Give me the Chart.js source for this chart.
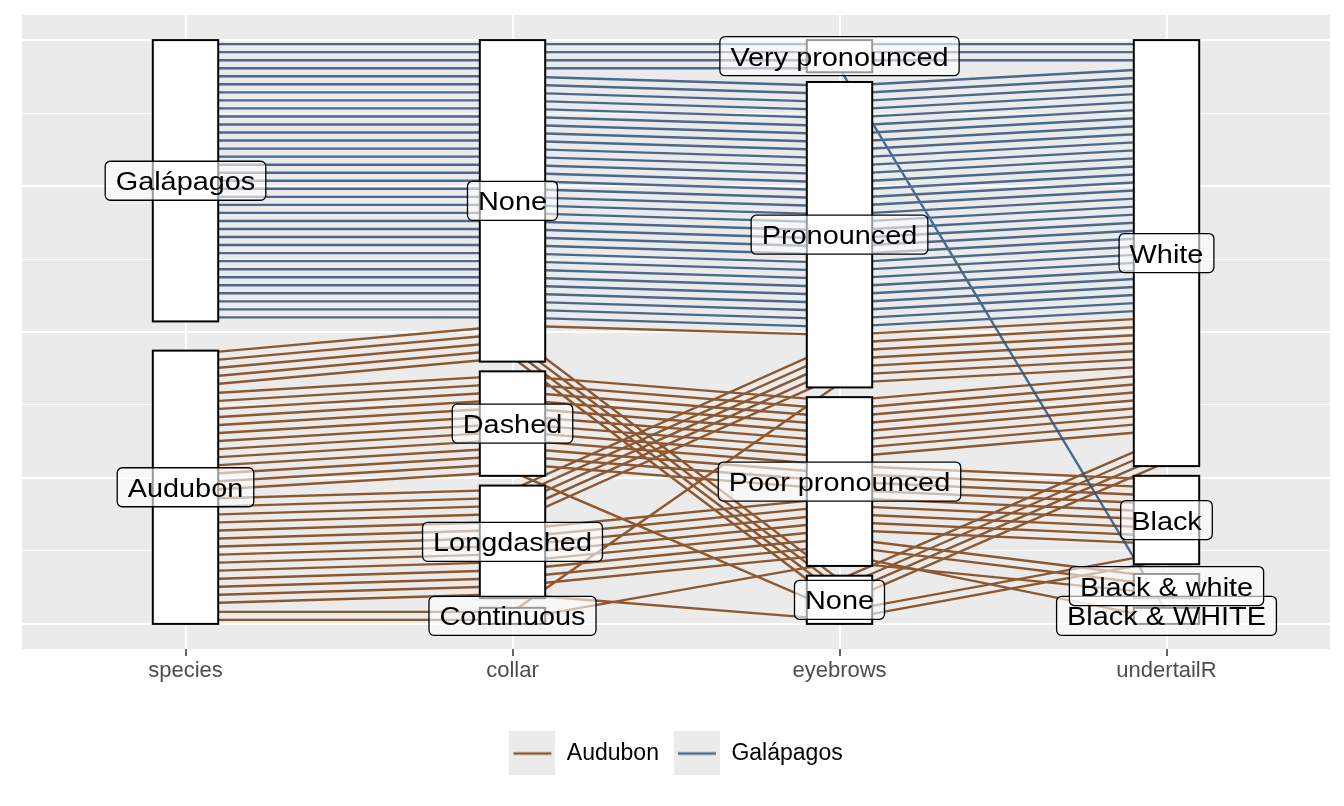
<!DOCTYPE html>
<html>
<head>
<meta charset="utf-8">
<script src="https://cdn.jsdelivr.net/npm/chart.js@4.4.1/dist/chart.umd.min.js"></script>
<style>
body { margin: 0; background: #fff; overflow: hidden; }
</style>
</head>
<body>
<canvas id="pcp" width="1344" height="806"></canvas>
<script>
// axes, and the levels of each axis from bottom to top
var axisNames = ['species', 'collar', 'eyebrows', 'undertailR'];
var speciesLevels = ['Audubon', 'Galápagos'];
var collarLevels = ['Continuous', 'Longdashed', 'Dashed', 'None'];
var eyebrowsLevels = ['None', 'Poor pronounced', 'Pronounced', 'Very pronounced'];
var undertailLevels = ['Black & WHITE', 'Black & white', 'Black', 'White'];

// every combination of the birds, with the number of birds that have it
var comboSpecies = ['Galápagos', 'Galápagos', 'Galápagos', 'Audubon', 'Audubon', 'Audubon', 'Audubon', 'Audubon', 'Audubon', 'Audubon', 'Audubon', 'Audubon', 'Audubon', 'Audubon', 'Audubon'];
var comboCollar = ['None', 'None', 'None', 'None', 'None', 'Dashed', 'Dashed', 'Dashed', 'Longdashed', 'Longdashed', 'Longdashed', 'Longdashed', 'Longdashed', 'Continuous', 'Continuous'];
var comboEyebrows = ['Very pronounced', 'Very pronounced', 'Pronounced', 'Pronounced', 'None', 'Poor pronounced', 'Poor pronounced', 'None', 'Pronounced', 'Poor pronounced', 'Poor pronounced', 'Poor pronounced', 'None', 'Pronounced', 'Poor pronounced'];
var comboUndertail = ['White', 'Black & WHITE', 'White', 'White', 'White', 'White', 'Black', 'Black', 'White', 'Black', 'Black & white', 'Black & WHITE', 'Black', 'White', 'Black & white'];
var comboCount = [3, 1, 31, 1, 4, 8, 4, 1, 5, 5, 2, 1, 1, 1, 1];

var yGridBreaks = [0, 0.125, 0.25, 0.375, 0.5, 0.625, 0.75, 0.875, 1];
var speciesColors = ['rgba(125,62,15,0.85)', 'rgba(47,82,123,0.85)'];

var levelLists = [speciesLevels, collarLevels, eyebrowsLevels, undertailLevels];
var comboCols = [comboSpecies, comboCollar, comboEyebrows, comboUndertail];
var space = 0.05;
var boxHalf = 0.1;

// one row per bird, holding its level index on each axis
var birds = [];
comboCount.forEach(function(n, c) {
	for (var k = 0; k < n; k++) {
		birds.push(comboCols.map(function(col, a) { return levelLists[a].indexOf(col[c]); }));
	}
});
var N = birds.length;
var slot = (1 - space) / N;

// place birds inside their level, ties broken by the axis on the left
var ypos = birds.map(function() { return []; });
var boxes = [];
for (var a = 0; a < axisNames.length; a++) {
	var idx = birds.map(function(b, i) { return i; });
	idx.sort(function(i, j) {
		var bi = birds[i], bj = birds[j];
		if (bi[a] !== bj[a]) return bi[a] - bj[a];
		if (a === 0) {
			for (var m = 1; m < bi.length; m++) if (bi[m] !== bj[m]) return bi[m] - bj[m];
			return i - j;
		}
		return ypos[i][a - 1] - ypos[j][a - 1];
	});
	var L = levelLists[a].length, gap = space / (L - 1), y = 0;
	for (var l = 0; l < L; l++) {
		var start = y;
		var members = idx.filter(function(i) { return birds[i][a] === l; });
		members.forEach(function(i, k) { ypos[i][a] = start + (k + 0.5) * slot; });
		y = start + members.length * slot;
		boxes.push({axis: a, lo: start, hi: y, text: levelLists[a][l]});
		y += gap;
	}
}

function pathsFor(sp) {
	var pts = [];
	birds.forEach(function(b, i) {
		if (b[0] !== sp) return;
		for (var a = 0; a < axisNames.length; a++) pts.push({x: a + 1, y: ypos[i][a]});
		pts.push({x: axisNames.length, y: null});
	});
	return pts;
}

function keyImage(color) {
	var cv = document.createElement('canvas');
	cv.width = 46; cv.height = 46;
	var g = cv.getContext('2d');
	g.fillStyle = '#EBEBEB';
	g.fillRect(0, 0, 46, 46);
	g.strokeStyle = color;
	g.lineWidth = 2.4;
	g.beginPath(); g.moveTo(4, 23); g.lineTo(42, 23); g.stroke();
	return cv;
}
var keyImages = speciesColors.map(keyImage);

function roundRect(c, x, y, w, h, r) {
	c.beginPath();
	c.moveTo(x + r, y);
	c.lineTo(x + w - r, y); c.arcTo(x + w, y, x + w, y + r, r);
	c.lineTo(x + w, y + h - r); c.arcTo(x + w, y + h, x + w - r, y + h, r);
	c.lineTo(x + r, y + h); c.arcTo(x, y + h, x, y + h - r, r);
	c.lineTo(x, y + r); c.arcTo(x, y, x + r, y, r);
	c.closePath();
}

var pcpDecor = {
	id: 'pcpDecor',
	beforeDraw: function(chart) {
		var c = chart.ctx, ar = chart.chartArea;
		c.save();
		c.fillStyle = '#EBEBEB';
		c.fillRect(ar.left, ar.top, ar.right - ar.left, ar.bottom - ar.top);
		c.restore();
	},
	afterDatasetsDraw: function(chart) {
		var c = chart.ctx, xs = chart.scales.x, ys = chart.scales.y;
		c.save();
		boxes.forEach(function(bx) {
			var x0 = xs.getPixelForValue(bx.axis + 1 - boxHalf), x1 = xs.getPixelForValue(bx.axis + 1 + boxHalf);
			var y0 = ys.getPixelForValue(bx.hi), y1 = ys.getPixelForValue(bx.lo);
			c.fillStyle = '#fff';
			c.fillRect(x0, y0, x1 - x0, y1 - y0);
			c.strokeStyle = '#000';
			c.lineWidth = 2;
			c.strokeRect(x0, y0, x1 - x0, y1 - y0);
		});
		var stretch = 1.11, fs = 26, padX = 10.5, h = 39;
		c.font = fs + 'px "Liberation Sans", Arial, sans-serif';
		boxes.forEach(function(bx) {
			var cx = xs.getPixelForValue(bx.axis + 1), cy = ys.getPixelForValue((bx.lo + bx.hi) / 2);
			var w = c.measureText(bx.text).width * stretch + 2 * padX;
			roundRect(c, cx - w / 2, cy - h / 2, w, h, 5);
			c.fillStyle = 'rgba(255,255,255,0.6)';
			c.fill();
			c.strokeStyle = '#000';
			c.lineWidth = 1.3;
			c.stroke();
			c.save();
			c.translate(cx, cy + 9.5);
			c.scale(stretch, 1);
			c.textAlign = 'center';
			c.textBaseline = 'alphabetic';
			c.fillStyle = '#000';
			c.fillText(bx.text, 0, 0);
			c.restore();
		});
		c.restore();
	}
};

Chart.defaults.font.family = '"Liberation Sans", Arial, sans-serif';

var chart = new Chart(document.getElementById('pcp'), {
	type: 'line',
	data: {
		datasets: speciesLevels.map(function(name, i) {
			return {
				label: name,
				data: pathsFor(i),
				borderColor: speciesColors[i],
				borderWidth: 2.4,
				pointRadius: 0,
				tension: 0,
				fill: false,
				spanGaps: false,
				order: i === 0 ? 1 : 0
			};
		})
	},
	options: {
		responsive: false,
		animation: false,
		events: [],
		layout: { padding: { left: 22, right: 14, top: 15, bottom: 31 } },
		scales: {
			x: {
				type: 'linear', min: 0.5, max: 4.5,
				afterBuildTicks: function(s) { s.ticks = axisNames.map(function(n, i) { return {value: i + 1}; }); },
				afterFit: function(s) { s.height = 78; },
				grid: { color: '#fff', lineWidth: 2, drawTicks: true, tickLength: 7, tickColor: '#333', tickWidth: 1.5 },
				border: { display: false },
				ticks: {
					color: '#4D4D4D', font: { size: 22 }, padding: 2, maxRotation: 0,
					callback: function(v) { return axisNames[v - 1] || ''; }
				}
			},
			y: {
				type: 'linear', min: -0.043, max: 1.043,
				afterBuildTicks: function(s) { s.ticks = yGridBreaks.map(function(v) { return {value: v}; }); },
				ticks: { display: false },
				grid: { color: '#fff', lineWidth: function(ctx) { return ctx.index % 2 ? 1 : 2; }, drawTicks: false },
				border: { display: false }
			}
		},
		plugins: {
			tooltip: { enabled: false },
			legend: {
				position: 'bottom',
				labels: {
					usePointStyle: true, pointStyleWidth: 46, padding: 15,
					font: { size: 23 }, color: '#000',
					generateLabels: function() {
						return speciesLevels.map(function(name, i) {
							return { text: name, pointStyle: keyImages[i], fillStyle: speciesColors[i], strokeStyle: speciesColors[i], lineWidth: 0, hidden: false, datasetIndex: i };
						});
					}
				}
			}
		}
	},
	plugins: [pcpDecor]
});
</script>
</body>
</html>
